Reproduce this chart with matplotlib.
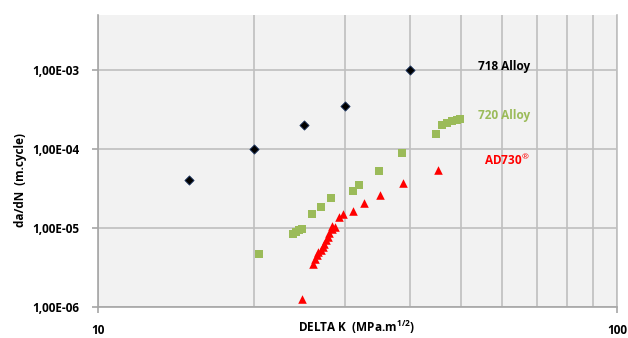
import matplotlib
matplotlib.use("Agg")
import matplotlib.pyplot as plt
from matplotlib.ticker import NullFormatter, FixedLocator

plt.rcParams['font.family'] = ['Open Sans', 'DejaVu Sans']
plt.rcParams['mathtext.fontset'] = 'custom'
plt.rcParams['mathtext.bf'] = 'Open Sans:bold'
plt.rcParams['mathtext.rm'] = 'Open Sans'

# 718 Alloy
dk_718 = [15.0, 20.0, 25.0, 30.0, 40.0]
dadn_718 = [4.0e-5, 1.0e-4, 2.0e-4, 3.5e-4, 1.0e-3]

# 720 Alloy
dk_720 = [20.4, 23.8, 24.1, 24.4, 24.7, 25.9, 26.9, 28.1, 31.0, 31.9, 34.8,
          38.5, 44.9, 46.0, 47.0, 48.1, 49.2, 49.9]
dadn_720 = [4.7e-6, 8.3e-6, 8.8e-6, 9.35e-6, 9.7e-6, 1.52e-5, 1.85e-5, 2.4e-5,
            2.94e-5, 3.47e-5, 5.27e-5, 8.9e-5, 1.52e-4, 2.01e-4, 2.13e-4,
            2.24e-4, 2.33e-4, 2.38e-4]

# AD730
dk_730 = [24.7, 26.0, 26.2, 26.4, 26.6, 26.9, 27.1, 27.3, 27.5, 27.8, 27.9,
          28.2, 28.3, 28.6, 29.1, 29.7, 31.0, 32.6, 34.9, 38.8, 45.3]
dadn_730 = [1.28e-6, 3.54e-6, 4.1e-6, 4.51e-6, 4.97e-6, 5.33e-6, 5.74e-6,
            6.35e-6, 6.99e-6, 7.7e-6, 8.65e-6, 9.8e-6, 1.05e-5, 1.03e-5,
            1.38e-5, 1.49e-5, 1.64e-5, 2.04e-5, 2.59e-5, 3.71e-5, 5.37e-5]

y_ticks = [1e-6, 1e-5, 1e-4, 1e-3]
y_labels = ["1,00E-06", "1,00E-05", "1,00E-04", "1,00E-03"]

grid_col = '#BFBFBF'

fig = plt.figure(figsize=(6.28, 3.38), dpi=100)
ax = fig.add_axes([0.1556, 0.0917, 0.9825 - 0.1556, 0.9565 - 0.0917])
ax.set_facecolor('#F2F2F2')
ax.set_xscale('log')
ax.set_yscale('log')
ax.set_xlim(10, 100)
ax.set_ylim(1e-6, 4.97e-3)

ax.scatter(dk_718, dadn_718, marker='D', s=22, color='black',
           edgecolors='#1F3864', linewidths=0.6, zorder=3)
ax.scatter(dk_720, dadn_720, marker='s', s=36, color='#9BBB59',
           linewidths=0, zorder=3)
ax.scatter(dk_730, dadn_730, marker='^', s=38, color='#FF0000',
           linewidths=0, zorder=4)

ax.set_xticks([10, 100])
ax.set_xticklabels(["10", "100"])
ax.xaxis.set_minor_locator(FixedLocator([20, 30, 40, 50, 60, 70, 80, 90]))
ax.xaxis.set_minor_formatter(NullFormatter())
ax.set_yticks(y_ticks)
ax.set_yticklabels(y_labels)
ax.yaxis.set_minor_locator(FixedLocator([]))

ax.grid(True, which='both', axis='x', color=grid_col, lw=1.2)
ax.grid(True, which='major', axis='y', color=grid_col, lw=1.2)
ax.set_axisbelow(True)

for s in ['left', 'bottom']:
    ax.spines[s].set_color('#A6A6A6')
    ax.spines[s].set_linewidth(1.2)
ax.spines['top'].set_visible(False)
ax.spines['right'].set_color(grid_col)
ax.spines['right'].set_linewidth(1.2)

ax.tick_params(axis='both', which='major', length=4, width=1.2, color='#A6A6A6',
               labelsize=8.5)
ax.tick_params(axis='y', which='major', pad=9)
ax.tick_params(axis='x', which='minor', length=0)
ax.tick_params(axis='x', which='major', pad=8)
for lab in ax.get_xticklabels() + ax.get_yticklabels():
    lab.set_fontweight('bold')

fig.text(0.567, 1 - 327 / 338, r"DELTA K  (MPa.m$^{\mathbf{1/2}}$)", fontsize=8.5,
         fontweight='bold', ha='center', va='center')
fig.text(21 / 628, 1 - 180 / 338, "da/dN  (m.cycle)", fontsize=8.5, fontweight='bold',
         rotation=90, ha='center', va='center')

ax.text(68, 1.09e-3, "718 Alloy", color='black', fontsize=8.5, fontweight='bold',
        ha='right', va='center')
ax.text(68, 2.62e-4, "720 Alloy", color='#9BBB59', fontsize=8.5, fontweight='bold',
        ha='right', va='center')
ax.text(68, 7.2e-5, "AD730$^{\u00ae}$", color='#FF0000', fontsize=8.5,
        fontweight='bold', ha='right', va='center')

fig.savefig("out.png", dpi=100)
